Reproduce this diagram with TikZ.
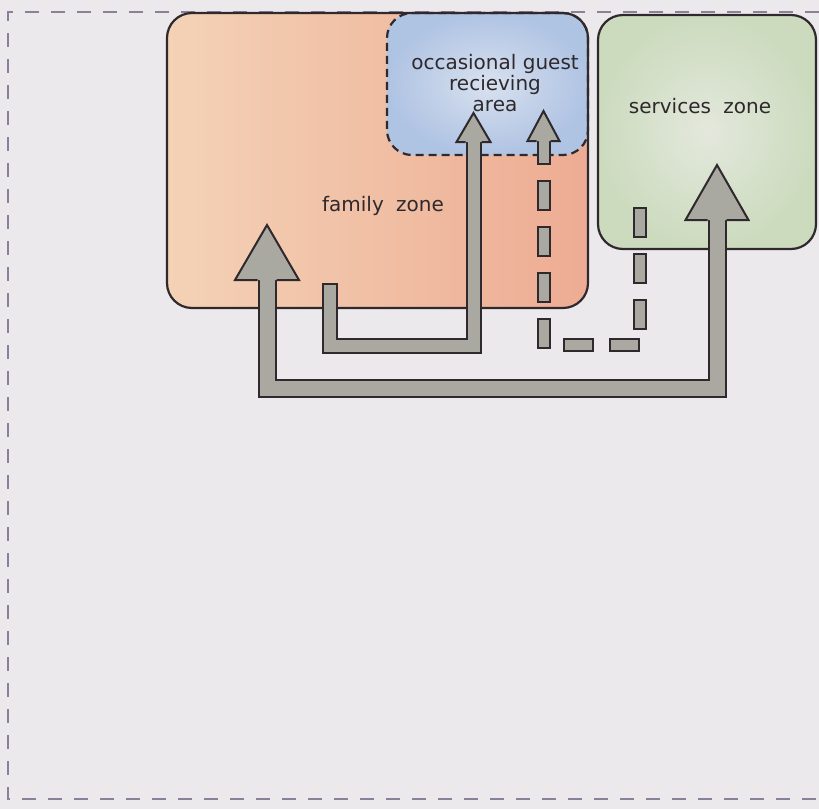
\documentclass[tikz,border=0pt]{standalone}
\usepackage{fontspec}
\newfontfamily\zonefont{DejaVu Sans}

\definecolor{paper}{HTML}{ECE9EC}
\definecolor{framedash}{HTML}{8A8198}
\definecolor{inkdark}{HTML}{2F292D}
\definecolor{familylight}{HTML}{F4D2B6}
\definecolor{familyred}{HTML}{EDAC93}
\definecolor{guestlight}{HTML}{D8E1EF}
\definecolor{guestblue}{HTML}{AFC3E3}
\definecolor{servlight}{HTML}{E3E8DC}
\definecolor{servgreen}{HTML}{CCDBBE}
\definecolor{arrowgray}{HTML}{A9A8A1}

% arrow head pointing up: base point, half head width, head height, half shaft width
\newcommand{\headup}[4]{%
  \fill[arrowgray] (#1) ++(-#2,0) -- ++(#2,-#3) -- ++(#2,#3) -- cycle;
  \draw[inkdark, line width=2pt, line join=miter]
    (#1) ++(-#4,0) -- ++({#4-#2},0) -- ++(#2,-#3) -- ++(#2,#3) -- ++({#4-#2},0);
}

\begin{document}
\begin{tikzpicture}[x=1pt,y=-1pt]
    \tikzstyle{every node}=[font=\zonefont\fontsize{20pt}{21pt}\selectfont, text=inkdark]
    \tikzstyle{zone}=[rectangle, rounded corners=25pt, inner sep=0pt, outer sep=0pt]
    \tikzstyle{zoneline}=[draw=inkdark, line width=2.2pt]
    \tikzstyle{shaft}=[draw=inkdark, line width=2pt, double=arrowgray, line join=miter, line cap=rect]

    % paper and frame
    \fill[paper] (0,0) rectangle (819,809);
    \useasboundingbox (0,0) rectangle (819,809);
    \draw[framedash, line width=1.2pt, dash pattern=on 14pt off 12pt]
        (819,12) -- (8,12) -- (8,799) -- (819,799);

    % zones
    \node[zone, left color=familylight, right color=familyred,
          minimum width=421pt, minimum height=295pt] (family) at (377.5,160.5) {};
    \node[zone, inner color=guestlight, outer color=guestblue, zoneline, dashed,
          dash pattern=on 8pt off 5pt,
          minimum width=201pt, minimum height=142pt] (guest) at (487.5,84) {};
    \draw[zoneline, rounded corners=25pt] (family.north west) rectangle (family.south east);
    \node[zone, inner color=servlight, outer color=servgreen, zoneline,
          minimum width=218pt, minimum height=234pt] (services) at (707,132) {};

    \node (familytxt) at (383,206) {family\hspace{0.3em} zone};
    \node[align=center] (guesttxt) at (495,83) {occasional guest\\recieving\\area};
    \node (servtxt) at (700,106) {services\hspace{0.3em} zone};

    % arrow points
    \coordinate (bigL) at (267,280);
    \coordinate (bigR) at (717,220);
    \coordinate (uTail) at (330,291);
    \coordinate (uHead) at (473.5,142);
    \coordinate (dHead) at (543.5,141);
    \coordinate (dEnd) at (640,200);

    % family to services
    \draw[shaft, double distance=15pt] (bigL) -- (bigL |- 0,388.5) -- (bigR |- 0,388.5) -- (bigR);
    \headup{bigL}{32}{55}{9.5}
    \headup{bigR}{31.5}{55}{9.5}

    % family to guest area
    \draw[shaft, double distance=12pt] (uTail) -- (uTail |- 0,345.5) -- (uHead |- 0,345.5) -- (uHead);
    \headup{uHead}{17}{29}{8}

    % guest area to services
    \draw[shaft, double distance=10pt, dash pattern=on 17pt off 29pt]
        (dHead) -- (dHead |- 0,344.5) -- (dEnd |- 0,344.5) -- (dEnd);
    \headup{dHead}{16}{30}{7}
\end{tikzpicture}
\end{document}
